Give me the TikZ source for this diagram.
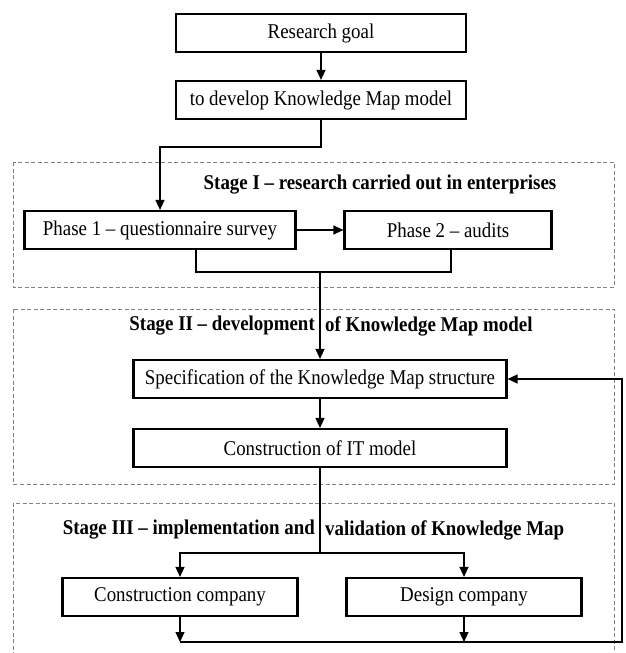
\documentclass[tikz,border=0pt]{standalone}
\usepackage{fontspec}
\setmainfont{Liberation Serif}[FakeStretch=0.9]
\usetikzlibrary{arrows.meta, calc}

\newcommand{\boxfont}{\fontsize{21}{25}\selectfont}

\tikzset{
	stepbox/.style = {draw, line width = 2.2pt, minimum height = 38pt, inner sep = 0pt, font = \boxfont},
	link/.style = {line width = 1.3pt},
	arrow/.style = {link, -{Triangle[length = 10pt, width = 9pt]}},
	frame/.style = {gray, line width = 0.8pt, dash pattern = on 4pt off 2.5pt},
	stagelabel/.style = {inner sep = 0pt, font = \boxfont\bfseries},
}

\begin{document}
\begin{tikzpicture}[x = 1pt, y = -1pt, line join = miter]
		\useasboundingbox (0,0) rectangle (626,653);
		
		% stage frames
		\draw [frame] (13,162) rectangle (614,287);
		\draw [frame] (13,309) rectangle (614,484);
		\draw [frame] (13,656) -- (13,503) -- (614,503) -- (614,656);
		
		% boxes
		\node [stepbox, minimum width = 290pt] (goal) at (321,33) {Research goal};
		\node [stepbox, minimum width = 290pt] (develop) at (321,100) {to develop Knowledge Map model};
		\node [stepbox, minimum width = 271pt] (phaseone) at (160,230) {Phase 1 -- questionnaire survey};
		\node [stepbox, minimum width = 207pt] (phasetwo) at (448,230) {Phase 2 -- audits};
		\node [stepbox, minimum width = 373pt] (spec) at (320,379) {Specification of the Knowledge Map structure};
		\node [stepbox, minimum width = 373pt] (itmodel) at (320,448) {Construction of IT model};
		\node [stepbox, minimum width = 235pt] (construction) at (180,597) {Construction company};
		\node [stepbox, minimum width = 235pt] (design) at (464,597) {Design company};
		
		% stage labels
		\node [stagelabel] (stageI) at (380,185) {Stage I -- research carried out in enterprises};
		\node [stagelabel, anchor = east] (stageIIa) at (315,326) {Stage II -- development};
		\node [stagelabel, anchor = west] (stageIIb) at (325,326) {of Knowledge Map model};
		\node [stagelabel, anchor = east] (stageIIIa) at (315,530) {Stage III -- implementation and};
		\node [stagelabel, anchor = west] (stageIIIb) at (325,530) {validation of Knowledge Map};
		
		\coordinate (turn) at (160,147);
		\coordinate (bl) at (196,272);
		\coordinate (br) at (451,272);
		\coordinate (merge) at (320,272);
		\coordinate (split) at (320,553);
		\coordinate (bottom) at (622,642);
		
		% connectors
		\draw [arrow] (goal) -- (develop);
		\draw [arrow] (develop.south) |- (turn) -- (phaseone.north);
		\draw [arrow] (phaseone) -- (phasetwo);
		\draw [link] (bl |- phaseone.south) -- (bl) -- (br) -- (br |- phasetwo.south);
		\draw [arrow] (merge) -- (spec.north);
		\draw [arrow] (spec) -- (itmodel);
		\draw [link] (itmodel.south) -- (split);
		\draw [arrow] (split) -| (construction.north);
		\draw [arrow] (split) -| (design.north);
		\draw [arrow] (construction.south) -- (construction.south |- bottom);
		\draw [arrow] (design.south) -- (design.south |- bottom);
		\draw [arrow] (construction.south |- bottom) -- (bottom) |- (spec.east);
	\end{tikzpicture}
\end{document}
